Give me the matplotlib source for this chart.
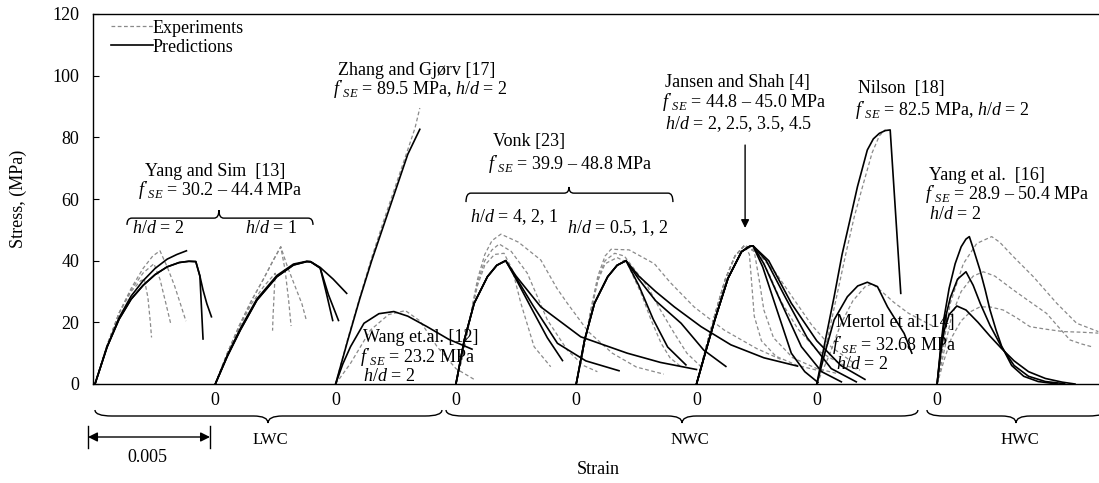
import numpy as np
import matplotlib
matplotlib.use("Agg")
import matplotlib.pyplot as plt
from matplotlib.path import Path
from matplotlib.patches import PathPatch
from matplotlib.lines import Line2D
from matplotlib.transforms import blended_transform_factory

plt.rcParams['font.family'] = ['Liberation Serif', 'DejaVu Serif']
plt.rcParams['mathtext.fontset'] = 'custom'
plt.rcParams['mathtext.rm'] = 'Liberation Serif'
plt.rcParams['mathtext.it'] = 'Liberation Serif:italic'
plt.rcParams['font.size'] = 13

# ---------------- data (strain in 1e-3, stress in MPa) ----------------
# origin of each group along the strain axis (each group spans 0.005)
group_origin = [0, 5, 10, 15, 20, 25, 30, 35]

# Yang and Sim [13], h/d = 2  (group 0)
ys2_exp = [
    ([0, 0.5, 1.0, 1.5, 1.9, 2.05, 2.2, 2.3, 2.35], [0, 12.5, 23, 30, 33.5, 34, 28, 20, 15.1]),
    ([0, 0.5, 1.0, 1.5, 2.0, 2.45, 2.7, 2.95, 3.14], [0, 12.5, 23, 30.5, 36, 39, 34, 26, 19.8]),
    ([0, 0.5, 1.0, 1.5, 2.0, 2.4, 2.7, 3.0, 3.3, 3.55, 3.78], [0, 12.5, 23, 31, 37.5, 41.5, 43.2, 38, 32, 26, 20.4]),
]
ys2_pred = [
    ([0, 0.5, 1.0, 1.5, 2.0, 2.5, 3.0, 3.5, 3.9, 4.19, 4.36, 4.49], [0, 12, 21, 27.5, 32, 35.5, 38, 39.4, 39.8, 39.7, 35, 14.6]),
    ([0, 0.5, 1.0, 1.5, 2.0, 2.5, 3.0, 3.5, 3.9, 4.19, 4.36, 4.49, 4.65, 4.84], [0, 12, 21, 27.5, 32, 35.5, 38, 39.4, 39.8, 39.7, 35, 30.5, 26, 21.8]),
    ([0, 0.5, 1.0, 1.5, 2.0, 2.5, 3.0, 3.4, 3.8], [0, 12, 21.5, 28.5, 33.5, 37.5, 40.5, 42, 43.2]),
]
# Yang and Sim [13], h/d = 1  (group 1)
ys1_exp = [
    ([0, 0.5, 1.0, 1.5, 2.0, 2.49, 2.45, 2.4, 2.38], [0, 10, 18.5, 26, 31.5, 35.9, 30, 22, 17.3]),
    ([0, 0.5, 1.0, 1.5, 2.0, 2.4, 2.72, 2.9, 3.05, 3.15], [0, 10, 19, 27, 34, 40, 44.5, 37, 27, 18.8]),
    ([0, 0.5, 1.0, 1.5, 2.0, 2.4, 2.72, 3.0, 3.3, 3.6, 3.78], [0, 10, 19, 27, 34, 40, 44.5, 38, 32, 26, 20.8]),
]
ys1_pred = [
    ([0, 0.5, 1.04, 1.73, 2.56, 3.25, 3.8, 3.95, 4.36, 4.6, 4.88], [0, 9, 17.5, 27.2, 34.8, 38.6, 39.7, 39.7, 37.6, 30, 20.6]),
    ([0, 0.5, 1.04, 1.73, 2.56, 3.25, 3.8, 3.95, 4.36, 4.7, 5.12], [0, 9, 17.5, 27.2, 34.8, 38.6, 39.7, 39.7, 37.6, 29, 20.6]),
    ([0, 0.5, 1.04, 1.73, 2.56, 3.25, 3.8, 4.0, 4.36, 4.9, 5.46], [0, 9.3, 18, 27.6, 35.2, 38.9, 39.8, 39.5, 37.8, 34, 29.4]),
]
# Zhang and Gjorv [17] and Wang et al. [12]  (group 2)
zhang_exp = [([0, 0.5, 1.0, 1.5, 2.0, 2.5, 3.0, 3.3, 3.5], [0, 14.5, 28, 41, 53, 64.5, 76, 83, 89.5])]
zhang_pred = [([0, 0.5, 1.0, 1.5, 2.0, 2.5, 3.0, 3.5], [0, 14, 27.5, 40, 51.5, 63, 74.5, 82.6])]
wang_exp = [([0, 0.62, 1.45, 2.2, 2.9, 3.5, 4.22, 5.0, 5.8], [0, 6.7, 17.5, 22.5, 23.8, 20.5, 12.1, 5, 1.3])]
wang_pred = [([0, 0.3, 0.62, 1.18, 1.8, 2.42, 3.0, 3.8, 4.7, 5.67], [0, 6.5, 12.1, 19.7, 22.8, 23.5, 22, 18.6, 14.5, 11.3])]
# Vonk [23], h/d = 4, 2, 1  (group 3)
vonk_a_exp = [
    ([0, 0.3, 0.6, 0.9, 1.2, 1.5, 1.87, 2.6, 3.53, 4.2, 4.63, 5.5, 6.5, 7.5, 8.64], [0, 10, 22, 34, 42, 46.5, 48.6, 46, 40.2, 31, 26.2, 17, 10, 5.5, 3.2]),
    ([0, 0.3, 0.6, 0.9, 1.2, 1.5, 1.8, 2.3, 2.97, 3.8, 4.63, 5.3, 5.88], [0, 10, 22, 33, 40, 43.5, 45.4, 43, 35.9, 20.8, 11, 6, 4]),
    ([0, 0.3, 0.6, 0.9, 1.2, 1.6, 2.0, 2.35, 2.7, 3.25, 3.94], [0, 10, 21.5, 32, 38.5, 42, 42.4, 37, 26.2, 12.1, 5.6]),
]
vonk_a_pred = [
    ([0, 0.35, 0.76, 1.31, 1.7, 2.07, 2.5, 3.11, 3.8, 4.43], [0, 14.3, 26.2, 34.8, 38.5, 40, 34, 25, 15, 7.6]),
    ([0, 0.35, 0.76, 1.31, 1.7, 2.07, 2.5, 3.2, 4.22, 5.4, 6.78], [0, 14.3, 26.2, 34.8, 38.5, 40, 34.5, 25.5, 13.2, 7.5, 4.3]),
    ([0, 0.35, 0.76, 1.31, 1.7, 2.07, 2.5, 3.53, 5.19, 7.12, 8.5, 10.0], [0, 14.3, 26.2, 34.8, 38.5, 40, 35, 25, 15.3, 10, 7, 4.7]),
]
# Vonk [23], h/d = 0.5, 1, 2  (group 4)
vonk_b_exp = [
    ([0, 0.3, 0.6, 0.9, 1.2, 1.45, 2.2, 3.25, 3.9, 4.9, 6.15, 7.5, 8.5], [0, 11, 24, 35, 41.5, 43.7, 43.5, 39, 33, 25, 17.5, 11.5, 8]),
    ([0, 0.3, 0.6, 0.9, 1.2, 1.6, 2.0, 2.97, 3.5, 4.08, 4.6, 5.19], [0, 11, 23, 34, 40, 42.4, 41.5, 31.6, 24, 16.4, 10, 5.6]),
    ([0, 0.3, 0.6, 0.9, 1.2, 1.7, 2.1, 2.7, 3.1, 3.53, 3.9, 4.36], [0, 11, 23, 33.5, 39, 41, 39.5, 29.4, 21, 13.2, 8.5, 5.6]),
]
vonk_b_pred = [
    ([0, 0.35, 0.76, 1.31, 1.7, 2.07, 2.6, 3.2, 3.8, 4.56], [0, 14.3, 26.2, 34.8, 38.5, 40, 32, 21, 12, 6.2]),
    ([0, 0.35, 0.76, 1.31, 1.7, 2.07, 2.6, 3.3, 4.36, 5.3, 6.22], [0, 14.3, 26.2, 34.8, 38.5, 40, 34, 27, 19.7, 11, 5.7]),
    ([0, 0.35, 0.76, 1.31, 1.7, 2.07, 2.6, 3.3, 4.08, 5.19, 6.43, 7.8, 9.2], [0, 14.3, 26.2, 34.8, 38.5, 40, 35, 30, 25, 18.6, 12.7, 8.5, 5.8]),
]
# Jansen and Shah [4]  (group 5)
jansen_exp = [
    ([0, 0.4, 0.8, 1.2, 1.6, 2.0, 2.2, 2.3, 2.4, 2.7, 3.3, 4.2, 5.0], [0, 12, 23.5, 34, 41.5, 45, 42, 32, 22, 14, 9, 6, 4.5]),
    ([0, 0.4, 0.8, 1.2, 1.6, 2.0, 2.4, 2.6, 2.8, 3.2, 4.0, 5.0, 5.8], [0, 12, 23.5, 34, 41.5, 45, 43, 34, 24, 15, 8.5, 5, 3.5]),
    ([0, 0.4, 0.8, 1.2, 1.6, 2.0, 2.5, 3.0, 3.5, 4.2, 5.0, 6.0, 6.8], [0, 12, 23.5, 34, 41.5, 45, 43, 36, 27, 18, 11, 6.5, 4.5]),
    ([0, 0.4, 0.8, 1.2, 1.6, 2.0, 2.6, 3.3, 4.0, 4.8, 5.6, 6.5], [0, 12, 23.5, 34, 41.5, 45, 42, 36, 28, 19, 12, 7]),
]
jansen_pred = [
    ([0, 0.38, 0.76, 1.31, 1.87, 2.2, 2.35, 2.75, 3.25, 3.94, 4.5, 5.05], [0, 10.5, 20.8, 34.3, 42.9, 44.6, 44.8, 38, 26.2, 10, 4, 0.5]),
    ([0, 0.38, 0.76, 1.31, 1.87, 2.2, 2.35, 2.8, 3.53, 4.36, 5.2, 6.02], [0, 10.5, 20.8, 34.3, 42.9, 44.6, 44.8, 39, 26.2, 12.1, 4, 0.7]),
    ([0, 0.38, 0.76, 1.31, 1.87, 2.2, 2.35, 2.9, 3.7, 4.6, 5.6, 6.64], [0, 10.5, 20.8, 34.3, 42.9, 44.6, 44.8, 40, 28, 15, 5, 0.7]),
    ([0, 0.38, 0.76, 1.31, 1.87, 2.2, 2.35, 3.0, 3.94, 5.0, 6.0, 7.0], [0, 10.5, 20.8, 34.3, 42.9, 44.6, 44.8, 40, 26.2, 14, 6, 1.5]),
]
# Nilson [18] and Mertol et al. [14]  (group 6)
nilson_exp = [([0, 0.4, 0.8, 1.2, 1.55, 1.9, 2.3, 2.6, 2.85], [0, 13, 27.5, 42, 54, 64, 75, 80.5, 82.5])]
nilson_pred = [([0, 0.35, 0.72, 1.05, 1.41, 1.69, 2.1, 2.35, 2.6, 2.85, 3.05, 3.49], [0, 14, 28.3, 42, 54.3, 64, 75.9, 79.5, 81.3, 82.2, 82.4, 29.4])]
mertol_exp = [([0, 0.5, 1.0, 1.5, 2.0, 2.3, 2.7, 3.2, 3.8, 4.4, 4.9], [0, 9, 19.5, 27, 31.5, 32.5, 30, 26.5, 23, 20.5, 18.5])]
mertol_pred = [([0, 0.3, 0.72, 1.27, 1.7, 2.1, 2.52, 2.94, 3.3, 3.63, 3.95], [0, 9, 20.8, 28.3, 31.8, 33, 31.6, 25, 20.5, 16.4, 10])]
# Yang et al. [16], HWC  (group 7)
yang16_exp = [
    ([0, 0.25, 0.54, 1.09, 1.65, 2.27, 2.6, 3.17, 4.0, 4.97, 5.8, 6.7], [0, 12, 26, 39, 45.6, 47.8, 46, 41.3, 34.8, 26.2, 19.7, 17]),
    ([0, 0.3, 0.6, 1.0, 1.5, 1.92, 2.4, 3.17, 3.8, 4.55, 5.1, 5.52, 6.0, 6.42], [0, 11, 22, 30, 35, 36.4, 35, 30.5, 27, 22.9, 18, 14.3, 13, 12.1]),
    ([0, 0.3, 0.6, 1.0, 1.4, 1.78, 2.2, 2.75, 3.3, 3.86, 4.5, 5.24, 6.0, 6.7], [0, 8, 15, 20.5, 23.5, 25, 25, 24, 21.5, 18.6, 17.8, 17, 16.8, 16.5]),
]
yang16_pred = [
    ([0, 0.15, 0.3, 0.5, 0.75, 1.0, 1.2, 1.34, 1.5, 1.78, 2.0, 2.2, 2.45, 2.68, 3.1, 3.6, 4.2, 5.0], [0, 12, 22, 31, 39, 44.5, 47, 47.8, 44, 37, 30.5, 24, 17.5, 12.3, 6, 2.5, 0.8, 0]),
    ([0, 0.15, 0.3, 0.55, 0.85, 1.2, 1.5, 1.8, 2.2, 2.68, 3.2, 3.8, 4.5, 5.3], [0, 11, 20, 28, 34, 36.4, 32, 26, 19, 12, 6, 2.5, 0.8, 0.1]),
    ([0, 0.15, 0.3, 0.5, 0.82, 1.2, 1.7, 2.2, 2.68, 3.2, 3.8, 4.5, 5.2, 5.73], [0, 10, 17.5, 22.5, 25.3, 24, 20, 15.5, 11.5, 7.5, 4, 1.8, 0.6, 0]),
]

groups = [
    (0, ys2_exp, ys2_pred), (1, ys1_exp, ys1_pred),
    (2, zhang_exp, zhang_pred), (2, wang_exp, wang_pred),
    (3, vonk_a_exp, vonk_a_pred), (4, vonk_b_exp, vonk_b_pred),
    (5, jansen_exp, jansen_pred),
    (6, nilson_exp, nilson_pred), (6, mertol_exp, mertol_pred),
    (7, yang16_exp, yang16_pred),
]

# ---------------- figure ----------------
W, H = 1099, 483
fig = plt.figure(figsize=(W / 100, H / 100), dpi=100)
ax = fig.add_axes([93 / W, 1 - 384 / H, 1 - 93 / W, 370 / H])

GRAY = '#8a8a8a'
for g, exp, pred in groups:
    off = group_origin[g]
    for s, f in exp:
        ax.plot(off + np.array(s), f, color=GRAY, lw=0.9, ls=(0, (3, 2)), zorder=2)
    for s, f in pred:
        ax.plot(off + np.array(s), f, color='k', lw=1.2, zorder=2.5, solid_joinstyle='round')

px_per_unit = 24.06
ax.set_xlim(-2 / px_per_unit, (W - 95) / px_per_unit)
ax.set_ylim(0, 120)
ax.set_yticks(range(0, 121, 20))
ax.set_xticks(group_origin[1:])
ax.set_xticklabels(['0'] * 7)
ax.tick_params(axis='y', direction='in', length=4.5, width=0.8, pad=10, labelsize=13)
ax.tick_params(axis='x', length=0, pad=6, labelsize=13)
for sp in ['left', 'bottom', 'top']:
    ax.spines[sp].set_linewidth(1.0)
ax.spines['right'].set_visible(False)

ax.set_ylabel('Stress, (MPa)', fontsize=13)
ax.yaxis.label.set_va('center')
ax.yaxis.set_label_coords((18 - 93) / 1006, 0.5)
ax.set_xlabel('Strain', fontsize=13)
ax.xaxis.label.set_va('center')
ax.xaxis.set_label_coords(0.502, (384 - 470) / 370)

# legend
handles = [Line2D([], [], color=GRAY, lw=0.9, ls=(0, (3, 2))), Line2D([], [], color='k', lw=1.2)]
ax.legend(handles, ['Experiments', 'Predictions'], loc='upper left', bbox_to_anchor=(0.018, 0.985),
          frameon=False, handlelength=2.3, handletextpad=0.0, labelspacing=0.12, borderpad=0,
          borderaxespad=0, fontsize=13)

# ---------------- annotations ----------------
def brace(x0, x1, xm, y_end, y_mid, y_tip, r, rt, transform):
    verts = [(x0, y_end), (x0, y_mid), (x0 + r, y_mid), (xm - rt, y_mid), (xm, y_mid), (xm, y_tip),
             (xm, y_mid), (xm + rt, y_mid), (x1 - r, y_mid), (x1, y_mid), (x1, y_end)]
    codes = [Path.MOVETO, Path.CURVE3, Path.CURVE3, Path.LINETO, Path.CURVE3, Path.CURVE3,
             Path.CURVE3, Path.CURVE3, Path.LINETO, Path.CURVE3, Path.CURVE3]
    p = PathPatch(Path(verts, codes), fill=False, lw=1.0, color='k', transform=transform, clip_on=False)
    ax.add_patch(p)

bt = blended_transform_factory(ax.transData, ax.transAxes)
def fy(ypx):
    return (384 - ypx) / 370

# braces under axis
brace(0.0, 14.42, 7.19, fy(410), fy(416), fy(423), 0.7, 0.6, bt)
brace(14.59, 34.2, 24.4, fy(410), fy(416), fy(423), 0.7, 0.6, bt)
brace(34.58, 42.0, 38.28, fy(410), fy(416), fy(423), 0.7, 0.6, bt)
ax.text(7.27, fy(440), 'LWC', transform=bt, ha='center', va='center', fontsize=12)
ax.text(24.73, fy(440), 'NWC', transform=bt, ha='center', va='center', fontsize=12)
ax.text(38.45, fy(440), 'HWC', transform=bt, ha='center', va='center', fontsize=12)

# scale bar 0.005
ax.annotate('', xy=(-0.29, fy(437)), xytext=(4.78, fy(437)), xycoords=bt, textcoords=bt,
            arrowprops=dict(arrowstyle='<|-|>', color='k', lw=1.0, mutation_scale=14, shrinkA=0, shrinkB=0),
            annotation_clip=False)
for xv in (-0.29, 4.78):
    ax.add_line(Line2D([xv, xv], [fy(426), fy(448)], color='k', lw=1.0, transform=bt, clip_on=False))
ax.text(2.16, fy(458), '0.005', transform=bt, ha='center', va='center', fontsize=13)

# braces over groups (data coords)
brace(1.33, 9.06, 5.15, 51.6, 53.8, 56.4, 0.2, 0.2, ax.transData)
brace(15.42, 24.02, 19.7, 59.0, 61.9, 63.9, 0.2, 0.2, ax.transData)

FSE = r"$f'_{SE}$"
HD = r"$h$/$d$"
texts = [
    (2.08, 68.8, 'Yang and Sim  [13]'),
    (1.79, 62.9, FSE + ' = 30.2 – 44.4 MPa'),
    (1.54, 50.3, HD + ' = 2'),
    (6.23, 50.3, HD + ' = 1'),
    (10.1, 101.8, 'Zhang and Gjørv [17]'),
    (9.89, 95.5, FSE + ' = 89.5 MPa, ' + HD + ' = 2'),
    (16.54, 78.5, 'Vonk [23]'),
    (16.33, 71.4, FSE + ' = 39.9 – 48.8 MPa'),
    (15.59, 54.2, HD + ' = 4, 2, 1'),
    (19.62, 50.6, HD + ' = 0.5, 1, 2'),
    (23.69, 97.8, 'Jansen and Shah [4]'),
    (23.57, 91.5, FSE + ' = 44.8 – 45.0 MPa'),
    (23.69, 84.4, HD + ' = 2, 2.5, 3.5, 4.5'),
    (31.71, 96.0, 'Nilson  [18]'),
    (31.59, 88.9, FSE + ' = 82.5 MPa, ' + HD + ' = 2'),
    (34.66, 67.5, 'Yang et al.  [16]'),
    (34.5, 61.5, FSE + ' = 28.9 – 50.4 MPa'),
    (34.66, 54.9, HD + ' = 2'),
    (11.14, 15.2, 'Wang et.al. [12]'),
    (11.01, 8.8, FSE + ' = 23.2 MPa'),
    (11.14, 2.3, HD + ' = 2'),
    (30.8, 19.8, 'Mertol et al.[14]'),
    (30.63, 12.6, FSE + ' = 32.68 MPa'),
    (30.8, 6.2, HD + ' = 2'),
]
for x, y, t in texts:
    ax.text(x, y, t, ha='left', va='center', fontsize=13, zorder=3)

# arrow for Jansen and Shah
ax.annotate('', xy=(27.02, 50.6), xytext=(27.02, 77.5),
            arrowprops=dict(arrowstyle='-|>', color='k', lw=1.0, mutation_scale=12, shrinkA=0, shrinkB=0))

fig.savefig('out.png', dpi=100)
